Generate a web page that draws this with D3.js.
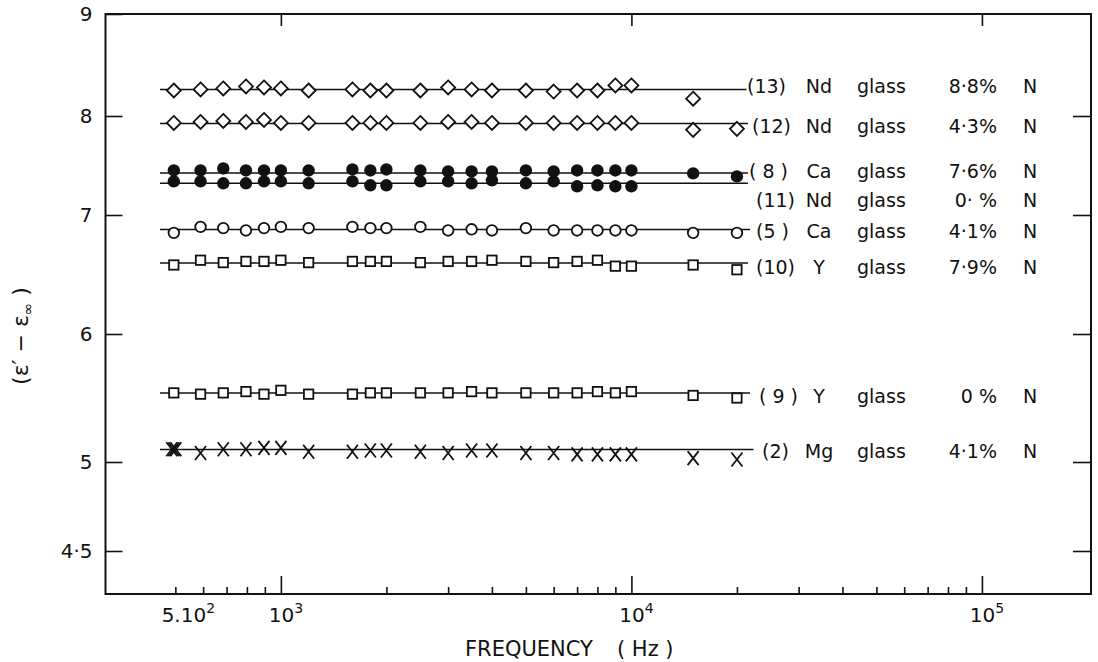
<!DOCTYPE html>
<html><head><meta charset="utf-8">
<script src="https://cdn.jsdelivr.net/npm/d3@7"></script>
<style>
body{margin:0;background:#fff}
svg{display:block}
text{font-family:"DejaVu Sans",sans-serif;fill:#111}
</style>
</head><body>
<svg id="chart" width="1098" height="662"></svg>
<script>
// ---------- data ----------
const frequencies = [495,590,685,795,895,1000,1200,1600,1800,2000,2500,3000,3500,4000,5000,6000,7000,8000,9000,10000,15000,20000];
const ndGlass88 = [8.25,8.26,8.27,8.29,8.28,8.27,8.25,8.26,8.25,8.25,8.25,8.28,8.26,8.25,8.25,8.24,8.25,8.25,8.30,8.30,8.17,null];
const ndGlass43 = [7.93,7.94,7.95,7.94,7.96,7.93,7.93,7.93,7.93,7.93,7.93,7.94,7.94,7.93,7.93,7.93,7.93,7.93,7.93,7.93,7.86,7.87];
const caGlass76 = [7.45,7.45,7.47,7.45,7.45,7.45,7.45,7.46,7.45,7.46,7.45,7.44,7.44,7.44,7.45,7.44,7.45,7.45,7.45,7.45,7.42,7.39];
const ndGlass0  = [7.34,7.34,7.32,7.32,7.34,7.34,7.32,7.34,7.30,7.30,7.34,7.34,7.32,7.35,7.32,7.34,7.29,7.30,7.29,7.29,null,null];
const caGlass41 = [6.85,6.90,6.89,6.87,6.89,6.90,6.89,6.90,6.89,6.89,6.90,6.87,6.88,6.87,6.89,6.87,6.87,6.87,6.87,6.87,6.85,6.85];
const yGlass79  = [6.58,6.62,6.60,6.61,6.61,6.62,6.60,6.61,6.61,6.61,6.60,6.61,6.61,6.62,6.61,6.60,6.61,6.62,6.57,6.57,6.58,6.54];
const yGlass0   = [5.54,5.53,5.54,5.55,5.53,5.56,5.53,5.53,5.54,5.54,5.54,5.54,5.55,5.54,5.54,5.54,5.54,5.55,5.54,5.55,5.52,5.50];
const mgGlass41 = [5.10,5.07,5.10,5.10,5.11,5.11,5.08,5.08,5.09,5.09,5.08,5.07,5.09,5.09,5.07,5.07,5.06,5.06,5.06,5.06,5.03,5.02];
const seriesValues = [ndGlass88, ndGlass43, caGlass76, ndGlass0, caGlass41, yGlass79, yGlass0, mgGlass41];
const fitLevels = [8.26, 7.925, 7.425, 7.32, 6.878, 6.597, 5.539, 5.098];
const fitFrom = [452,452,452,452,452,452,452,452];
const fitTo = [21300,21500,21500,21500,21800,21500,21800,22300];
const markers = ["diamond","diamond","dot","dot","circle","square","square","cross"];
const labelNums = ["(13)","(12)","( 8 )","(11)","(5 )","(10)","( 9 )","(2)"];
const labelElems = ["Nd","Nd","Ca","Nd","Ca","Y","Y","Mg"];
const labelGlass = ["glass","glass","glass","glass","glass","glass","glass","glass"];
const labelPct = ["8·8%","4·3%","7·6%","0· %","4·1%","7·9%","0 %","4·1%"];
const yTickValues = [9,8,7,6,5,4.5];
const yTickLabels = ["9","8","7","6","5","4·5"];
const xMajorTicks = [1000,10000,100000];
const xMinorTicks = [500,600,700,800,900,2000,3000,4000,5000,6000,7000,8000,9000,20000,30000,40000,50000,60000,70000,80000,90000];
const xLabelValues = [500,1000,10000,100000];
const xLabelBase = ["5.10","10","10","10"];
const xLabelSup = ["2","3","4","5"];

// ---------- layout / style ----------
const L=105.5, R=1091, T=14, B=594;
const yPix = [14,116,215,334,462,551];
const labelDy = [-3.5,2.5,-2,17,1.5,4,3,1.5];
const numX = [747,752,749,756,756,756,759,762];
const xLabelDx = [13,5,5,5];
const ink = "#111";

const svg = d3.select("#chart");
svg.append("rect").attr("width",1098).attr("height",662).attr("fill","#fff");

const x = d3.scaleLog().domain([316,204700]).range([L,R]);
const y = d3.scaleLinear().domain(yTickValues).range(yPix);

function styleAxis(g){
  g.select(".domain").remove();
  g.attr("font-family",null).attr("font-size",null);
  g.selectAll("line").attr("stroke",ink).attr("stroke-width",1.6);
}

// axes
svg.append("g").attr("transform",`translate(0,${B})`)
  .call(d3.axisBottom(x).tickValues(xMajorTicks).tickSizeInner(-18).tickSizeOuter(0).tickFormat(""))
  .call(styleAxis);
svg.append("g").attr("transform",`translate(0,${B})`)
  .call(d3.axisBottom(x).tickValues(xMinorTicks).tickSizeInner(-7).tickSizeOuter(0).tickFormat(""))
  .call(styleAxis);
svg.append("g").attr("transform",`translate(0,${T})`)
  .call(d3.axisTop(x).tickValues(xMajorTicks).tickSizeInner(-12).tickSizeOuter(0).tickFormat(""))
  .call(styleAxis);
svg.append("g").attr("transform",`translate(${L},0)`)
  .call(d3.axisLeft(y).tickValues(yTickValues).tickSizeInner(-17).tickSizeOuter(0).tickPadding(13)
    .tickFormat((d,i)=>yTickLabels[i]))
  .call(styleAxis)
  .call(g=>g.selectAll("text").attr("font-size",20).attr("fill",ink));
svg.append("g").attr("transform",`translate(${R},0)`)
  .call(d3.axisRight(y).tickValues(yTickValues.slice(1)).tickSizeInner(-18).tickSizeOuter(0).tickFormat(""))
  .call(styleAxis);

// frame
svg.append("rect").attr("x",L).attr("y",T).attr("width",R-L).attr("height",B-T)
  .attr("fill","none").attr("stroke",ink).attr("stroke-width",2);

// x tick labels
const xl = svg.append("g").selectAll("text").data(xLabelValues).join("text")
  .attr("x",(d,i)=>x(d)+xLabelDx[i]).attr("y",622)
  .attr("text-anchor","middle").attr("font-size",20);
xl.append("tspan").text((d,i)=>xLabelBase[i]);
xl.append("tspan").attr("dy",-9).attr("font-size",14).text((d,i)=>xLabelSup[i]);

// axis titles
svg.append("text").attr("x",465).attr("y",656).attr("font-size",21).text("FREQUENCY");
svg.append("text").attr("x",617).attr("y",656).attr("font-size",21).text("( Hz )");
const yt = svg.append("text").attr("transform","translate(28,336) rotate(-90)")
  .attr("text-anchor","middle").attr("font-size",22);
yt.append("tspan").text("(ε′ − ε");
yt.append("tspan").attr("dy",5).attr("font-size",15).text("∞");
yt.append("tspan").attr("dy",-5).text(" )");

// fitted lines
const lineGen = d3.line().x(d=>x(d[0])).y(d=>y(d[1]));
svg.append("g").selectAll("path").data(fitLevels).join("path")
  .attr("d",(v,i)=>lineGen([[fitFrom[i],v],[fitTo[i],v]]))
  .attr("fill","none").attr("stroke",ink).attr("stroke-width",1.6);

// markers
const sw = 1.8;
seriesValues.forEach((vals,si)=>{
  const pts = frequencies.map((f,j)=>({f,v:vals[j],j})).filter(d=>d.v!=null);
  const g = svg.append("g");
  const kind = markers[si];
  pts.forEach(d=>{
    const cx = x(d.f), cy = y(d.v);
    if(kind==="diamond"){
      g.append("path").attr("d",`M${cx},${cy-7}L${cx+7},${cy}L${cx},${cy+7}L${cx-7},${cy}Z`)
        .attr("fill","#fff").attr("stroke",ink).attr("stroke-width",sw);
    } else if(kind==="dot"){
      g.append("circle").attr("cx",cx).attr("cy",cy).attr("r",6.2).attr("fill",ink);
    } else if(kind==="circle"){
      g.append("circle").attr("cx",cx).attr("cy",cy).attr("r",5.3)
        .attr("fill","#fff").attr("stroke",ink).attr("stroke-width",sw);
    } else if(kind==="square"){
      g.append("rect").attr("x",cx-4.7).attr("y",cy-4.7).attr("width",9.4).attr("height",9.4)
        .attr("fill","#fff").attr("stroke",ink).attr("stroke-width",sw);
    } else {
      const offs = d.j===0 ? [-2,0,2] : [0];
      offs.forEach(o=>{
        g.append("path").attr("d",`M${cx+o-5.5},${cy-7}L${cx+o+5.5},${cy+7}M${cx+o+5.5},${cy-7}L${cx+o-5.5},${cy+7}`)
          .attr("fill","none").attr("stroke",ink).attr("stroke-width",sw);
      });
    }
  });
});

// labels
const lab = svg.append("g").attr("font-size",19);
fitLevels.forEach((v,i)=>{
  const ty = y(v)+labelDy[i];
  lab.append("text").attr("x",numX[i]).attr("y",ty).attr("dy","0.36em").text(labelNums[i]);
  lab.append("text").attr("x",819).attr("y",ty).attr("dy","0.36em").attr("text-anchor","middle").text(labelElems[i]);
  lab.append("text").attr("x",857).attr("y",ty).attr("dy","0.36em").text(labelGlass[i]);
  lab.append("text").attr("x",997).attr("y",ty).attr("dy","0.36em").attr("text-anchor","end").text(labelPct[i]);
  lab.append("text").attr("x",1023).attr("y",ty).attr("dy","0.36em").text("N");
});
</script>
</body></html>
